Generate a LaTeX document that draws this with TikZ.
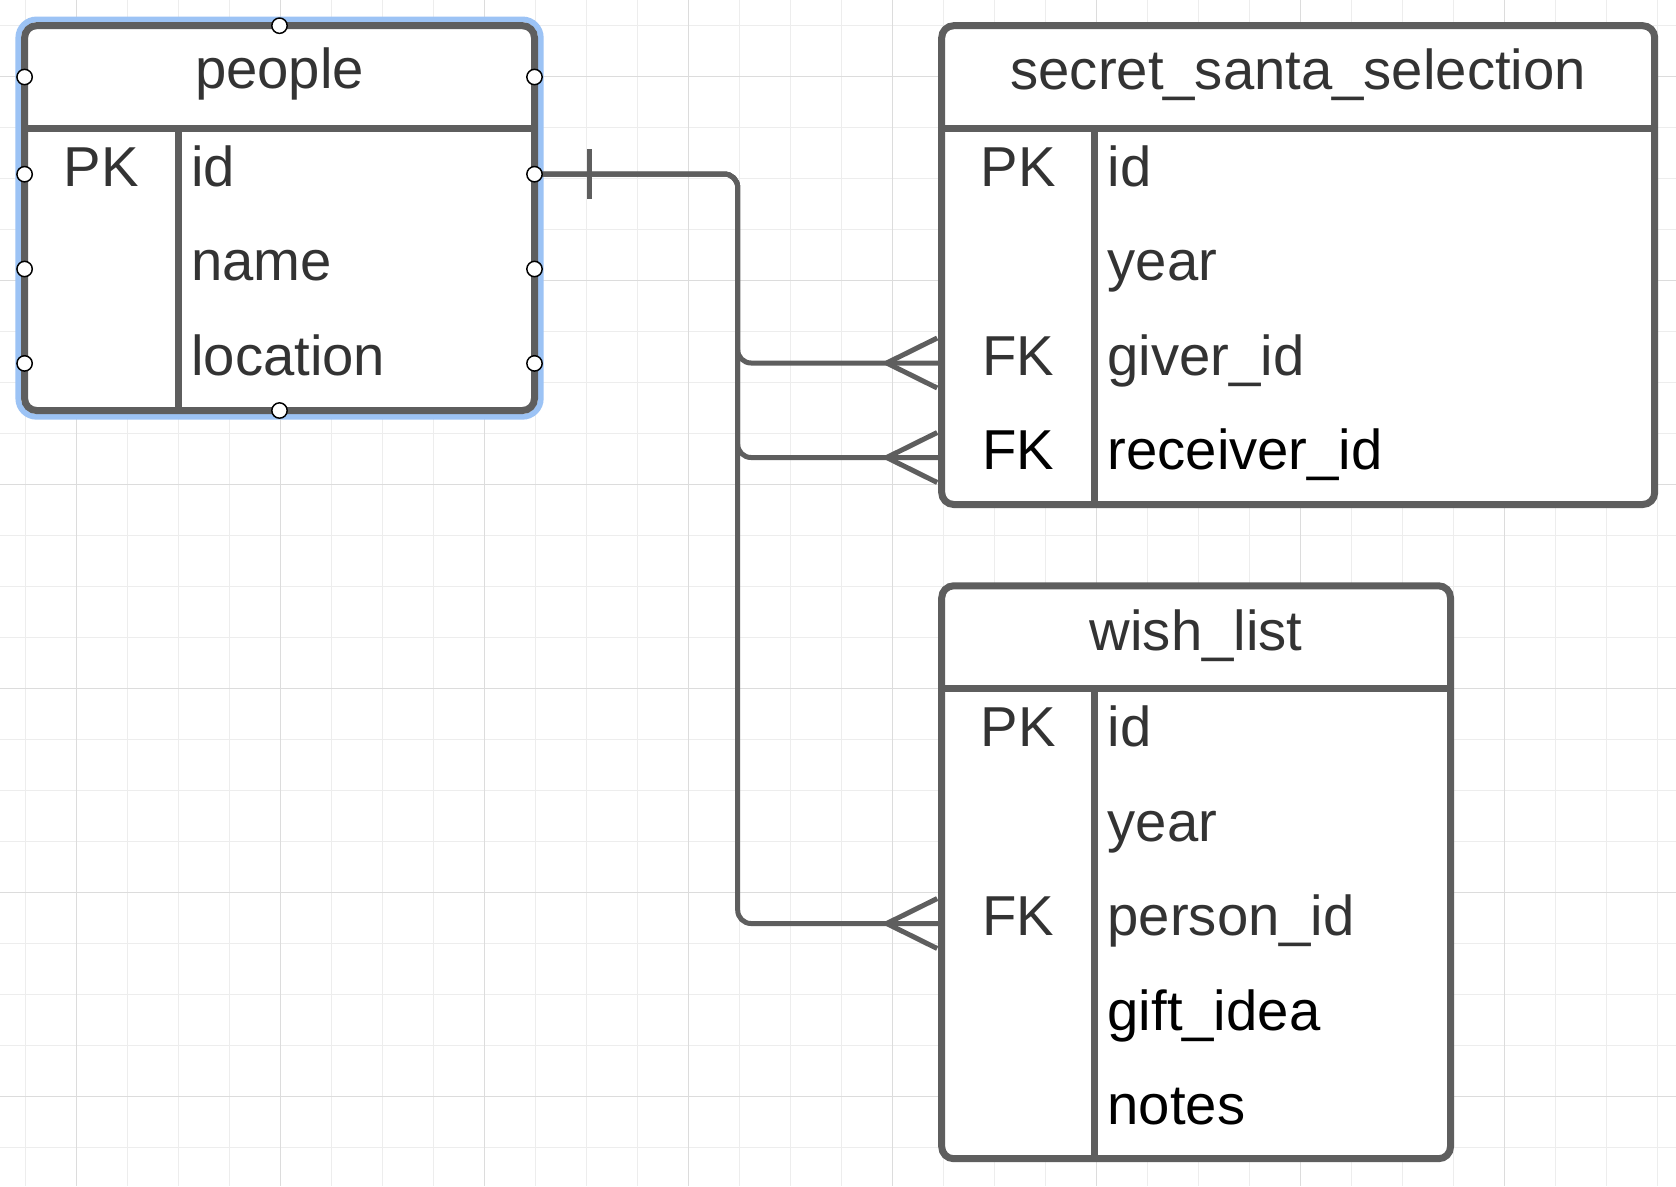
\documentclass[tikz,border=0pt]{standalone}
\usepackage{fontspec}
\setmainfont{Liberation Sans}
\usetikzlibrary{fit}
\definecolor{boxgray}{HTML}{5E5E5E}
\definecolor{txtgray}{HTML}{333333}
\definecolor{gridminor}{HTML}{EDEDED}
\definecolor{gridmajor}{HTML}{DCDCDC}
\definecolor{selblue}{HTML}{9CC3F5}
\pgfdeclarelayer{gridlayer}
\pgfdeclarelayer{connlayer}
\pgfsetlayers{gridlayer,connlayer,main}
\begin{document}
\begin{tikzpicture}[x=0.75pt,y=-0.75pt,
  tablebox/.style={draw=boxgray, fill=white, line width=5.25pt, rounded corners=9pt, inner sep=0pt, outer sep=0pt},
  tableline/.style={draw=boxgray, line width=5.25pt},
  conn/.style={draw=boxgray, line width=3.75pt, rounded corners=10pt},
  txtbase/.style={text=txtgray, font=\fontsize{42.2}{50}\selectfont, inner sep=0pt, outer sep=0pt, text height=31pt, text depth=13pt},
  titletxt/.style={txtbase, anchor=base},
  keytxt/.style={txtbase, anchor=base},
  fieldtxt/.style={txtbase, anchor=base west},
  darktxt/.style={text=black},
  handle/.style={circle, draw=black, fill=white, line width=1.1pt, minimum size=11.5pt, inner sep=0pt},
  crowfoot/.pic={\draw[boxgray, line width=3.75pt] (-55,0) -- (-4.5,-25) (-55,0) -- (-4.5,25);},
  onebar/.pic={\draw[boxgray, line width=3.75pt] (54.5,-25) -- (54.5,25);}
]
\begin{pgfonlayer}{gridlayer}
\useasboundingbox[fill=white] (0,0) rectangle (1676,1186);
\foreach \k in {0,...,32} \draw[gridminor, line width=0.8pt] ({25.2+51*\k},0) -- ({25.2+51*\k},1186);
\foreach \k in {0,...,22} \draw[gridminor, line width=0.8pt] (0,{25.2+51*\k}) -- (1676,{25.2+51*\k});
\foreach \k in {0,...,7} \draw[gridmajor, line width=0.8pt] ({76.2+204*\k},0) -- ({76.2+204*\k},1186);
\foreach \k in {0,...,5} \draw[gridmajor, line width=0.8pt] (0,{76.2+204*\k}) -- (1676,{76.2+204*\k});
% selection outline
\draw[selblue, line width=4.3pt, rounded corners=13.7pt] (18.3,19.4) rectangle (540.8,416.8);
\end{pgfonlayer}

\coordinate (spine) at (737.7,0);

% tables
\node[tablebox, fit={(24.6,25.7) (534.5,410.5)}] (people) {};
\node[tablebox, fit={(941.7,25.7) (1654.7,504.5)}] (sss) {};
\node[tablebox, fit={(941.7,585.8) (1450.5,1158.7)}] (wish) {};

% people
\draw[tableline] (people.west |- 0,128) -- (people.east |- 0,128);
\draw[tableline] (178.3,128) -- (178.3,410.5);
\node[titletxt] (people-title) at (279.5,88.3) {people};
\node[keytxt] (p-pk) at (101.5,186) {PK};
\node[fieldtxt] (p-id) at (191.3,186) {id};
\node[fieldtxt] (p-name) at (191.3,280.5) {name};
\node[fieldtxt] (p-loc) at (191.3,375) {location};

% secret_santa_selection
\draw[tableline] (sss.west |- 0,128.3) -- (sss.east |- 0,128.3);
\draw[tableline] (1094.6,128.3) -- (1094.6,504.5);
\node[titletxt] (sss-title) at (1298.2,89.8) {secret\_santa\_selection};
\node[keytxt] (s-pk) at (1018.2,186) {PK};
\node[fieldtxt] (s-id) at (1107.6,186) {id};
\node[fieldtxt] (s-year) at (1107.6,280.5) {year};
\node[keytxt] (s-fk1) at (1018.2,375) {FK};
\node[fieldtxt] (s-giver) at (1107.6,375) {giver\_id};
\node[keytxt, darktxt] (s-fk2) at (1018.2,469.5) {FK};
\node[fieldtxt, darktxt] (s-receiver) at (1107.6,469.5) {receiver\_id};

% wish_list
\draw[tableline] (wish.west |- 0,688.4) -- (wish.east |- 0,688.4);
\draw[tableline] (1094.6,688.4) -- (1094.6,1158.7);
\node[titletxt] (wish-title) at (1196.1,650) {wish\_list};
\node[keytxt] (w-pk) at (1018.2,746.5) {PK};
\node[fieldtxt] (w-id) at (1107.6,746.5) {id};
\node[fieldtxt] (w-year) at (1107.6,841) {year};
\node[keytxt] (w-fk) at (1018.2,935.5) {FK};
\node[fieldtxt] (w-person) at (1107.6,935.5) {person\_id};
\node[fieldtxt, darktxt] (w-gift) at (1107.6,1030) {gift\_idea};
\node[fieldtxt, darktxt] (w-notes) at (1107.6,1124.5) {notes};

% connectors (behind the tables)
\begin{pgfonlayer}{connlayer}
\draw[conn] (people.east |- p-id) -- (spine |- p-id) -- (spine |- s-giver) -- (sss.west |- s-giver);
\draw[conn] (people.east |- p-id) -- (spine |- p-id) -- (spine |- s-receiver) -- (sss.west |- s-receiver);
\draw[conn] (people.east |- p-id) -- (spine |- p-id) -- (spine |- w-person) -- (wish.west |- w-person);
\pic at (people.east |- p-id) {onebar};
\pic at (sss.west |- s-giver) {crowfoot};
\pic at (sss.west |- s-receiver) {crowfoot};
\pic at (wish.west |- w-person) {crowfoot};
\end{pgfonlayer}

% selection handles
\foreach \yy [count=\i] in {77,174.2,269,363.4} {
  \node[handle] (hl\i) at (24.6,\yy) {};
  \node[handle] (hr\i) at (534.5,\yy) {};
}
\node[handle] (ht) at (279.5,25.7) {};
\node[handle] (hb) at (279.5,410.5) {};
\end{tikzpicture}
\end{document}
